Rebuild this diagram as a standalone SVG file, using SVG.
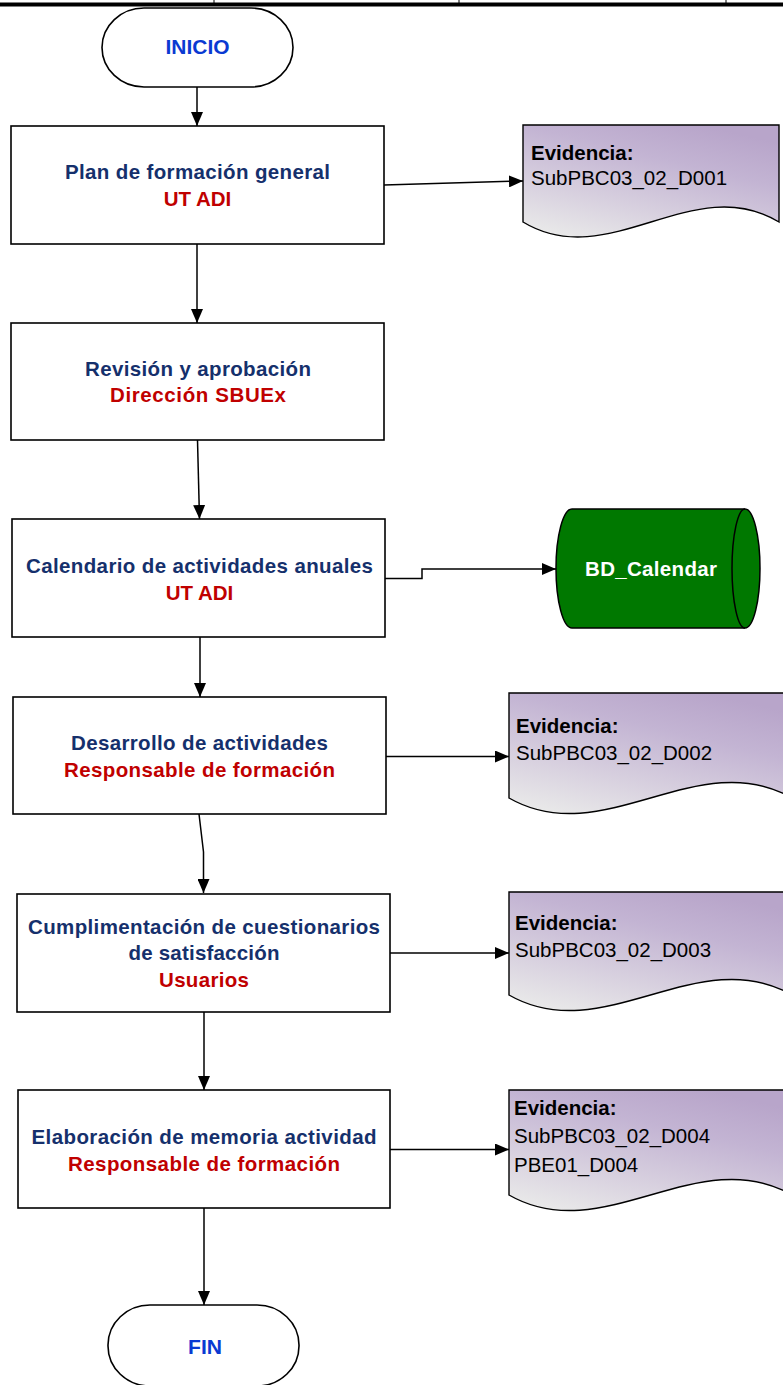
<svg xmlns="http://www.w3.org/2000/svg" width="783" height="1385" viewBox="0 0 783 1385">
<style>
.t{font-family:"Liberation Sans",Arial,sans-serif;font-weight:bold;font-size:20.5px;text-anchor:middle}
.n{fill:#15306c}.r{fill:#c00000}.b{fill:#0a3ad2}
.box{fill:#fff;stroke:#000;stroke-width:1.6}
.doc{fill:url(#dg);stroke:#000;stroke-width:1.4}
.dt{font-family:"Liberation Sans",Arial,sans-serif;font-size:20.5px;fill:#000}
.dtb{font-weight:bold}
.c{fill:none;stroke:#000;stroke-width:1.5;marker-end:url(#ah)}
</style>
<defs>
<linearGradient id="dg" x1="0.15" y1="1" x2="0.7" y2="0">
<stop offset="0" stop-color="#e9e9e9"/>
<stop offset="0.35" stop-color="#d6cede"/>
<stop offset="0.7" stop-color="#c3b4d3"/>
<stop offset="1" stop-color="#b8a5ca"/>
</linearGradient>
<marker id="ah" viewBox="0 0 14 12" refX="14" refY="6" markerWidth="14" markerHeight="12" markerUnits="userSpaceOnUse" orient="auto">
<path d="M0,0 L14,6 L0,12 z" fill="#000"/>
</marker>
</defs>
<g id="header">
<line x1="0" y1="4.5" x2="783" y2="4.5" stroke="#000" stroke-width="4"/>
<line x1="214" y1="0" x2="214" y2="3" stroke="#000" stroke-width="1"/>
<line x1="459" y1="0" x2="459" y2="3" stroke="#000" stroke-width="1"/>
<line x1="726" y1="0" x2="726" y2="3" stroke="#000" stroke-width="1"/>
</g>
<g id="connectors">
<path class="c" d="M197,87 V126"/>
<path class="c" d="M384,185 L523,181"/>
<path class="c" d="M197,244 V323"/>
<path class="c" d="M197.5,440 L199.5,519"/>
<path class="c" d="M385,578.5 H422 V569 H556"/>
<path class="c" d="M200,637 V697"/>
<path class="c" d="M386,756.5 H509"/>
<path class="c" d="M199,814 L203.5,852 V893"/>
<path class="c" d="M390,953 H509"/>
<path class="c" d="M204,1012 V1090"/>
<path class="c" d="M390,1149.5 H509"/>
<path class="c" d="M204,1208 V1305"/>
</g>
<g id="inicio">
<rect x="102" y="8" width="191" height="79" rx="42" ry="40" class="box"/>
<text class="t b" x="197.5" y="53.5" textLength="64" lengthAdjust="spacingAndGlyphs">INICIO</text>
</g>
<g id="plan">
<rect x="11" y="126" width="373" height="118" class="box"/>
<text class="t n" x="197.5" y="178.5" textLength="265" lengthAdjust="spacing">Plan de formación general</text>
<text class="t r" x="197.5" y="205.5">UT ADI</text>
</g>
<g id="evid1">
<path class="doc" d="M523,125 H779 V222 C693,170 609,274 523,222 Z"/>
<text class="dt dtb" x="531" y="160">Evidencia:</text>
<text class="dt" x="531" y="184.5">SubPBC03_02_D001</text>
</g>
<g id="revision">
<rect x="11" y="323" width="373" height="117" class="box"/>
<text class="t n" x="198" y="376" textLength="226" lengthAdjust="spacing">Revisión y aprobación</text>
<text class="t r" x="198" y="401.5" textLength="176" lengthAdjust="spacing">Dirección SBUEx</text>
</g>
<g id="calendario">
<rect x="12" y="519" width="373" height="118" class="box"/>
<text class="t n" x="199.5" y="573" textLength="347" lengthAdjust="spacing">Calendario de actividades anuales</text>
<text class="t r" x="199.5" y="599.5">UT ADI</text>
</g>
<g id="bd_calendar">
<path d="M572,509 H745 A15,59.5 0 0 1 745,628 H572 A16,59.5 0 0 1 572,509 Z" fill="#007800" stroke="#000" stroke-width="1.5"/>
<path d="M745,509 A13,59.5 0 0 0 745,628" fill="none" stroke="#000" stroke-width="1.5"/>
<text class="t" x="651" y="576" fill="#fff" textLength="132" lengthAdjust="spacing">BD_Calendar</text>
</g>
<g id="desarrollo">
<rect x="13" y="697" width="373" height="117" class="box"/>
<text class="t n" x="199.5" y="750" textLength="257" lengthAdjust="spacing">Desarrollo de actividades</text>
<text class="t r" x="199.5" y="777" textLength="271" lengthAdjust="spacing">Responsable de formación</text>
</g>
<g id="evid2">
<path class="doc" d="M509,693 H792 V798 C698,744 603,852 509,798 Z"/>
<text class="dt dtb" x="516" y="733">Evidencia:</text>
<text class="dt" x="516" y="760">SubPBC03_02_D002</text>
</g>
<g id="cuestionarios">
<rect x="17" y="894" width="373" height="118" class="box"/>
<text class="t n" x="204" y="933.5" textLength="352" lengthAdjust="spacing">Cumplimentación de cuestionarios</text>
<text class="t n" x="204" y="960" textLength="151" lengthAdjust="spacing">de satisfacción</text>
<text class="t r" x="204" y="987" textLength="90" lengthAdjust="spacing">Usuarios</text>
</g>
<g id="evid3">
<path class="doc" d="M509,892 H792 V995 C698,941 603,1049 509,995 Z"/>
<text class="dt dtb" x="515" y="930">Evidencia:</text>
<text class="dt" x="515" y="957">SubPBC03_02_D003</text>
</g>
<g id="memoria">
<rect x="18" y="1090" width="372" height="118" class="box"/>
<text class="t n" x="204" y="1144" textLength="345" lengthAdjust="spacing">Elaboración de memoria actividad</text>
<text class="t r" x="204" y="1171" textLength="272" lengthAdjust="spacing">Responsable de formación</text>
</g>
<g id="evid4">
<path class="doc" d="M509,1090 H792 V1195 C698,1141 603,1249 509,1195 Z"/>
<text class="dt dtb" x="514" y="1115">Evidencia:</text>
<text class="dt" x="514" y="1143">SubPBC03_02_D004</text>
<text class="dt" x="514" y="1172">PBE01_D004</text>
</g>
<g id="fin">
<rect x="108" y="1305" width="191" height="81" rx="42" ry="40" class="box"/>
<text class="t b" x="205" y="1354" textLength="34" lengthAdjust="spacingAndGlyphs">FIN</text>
</g>
</svg>
